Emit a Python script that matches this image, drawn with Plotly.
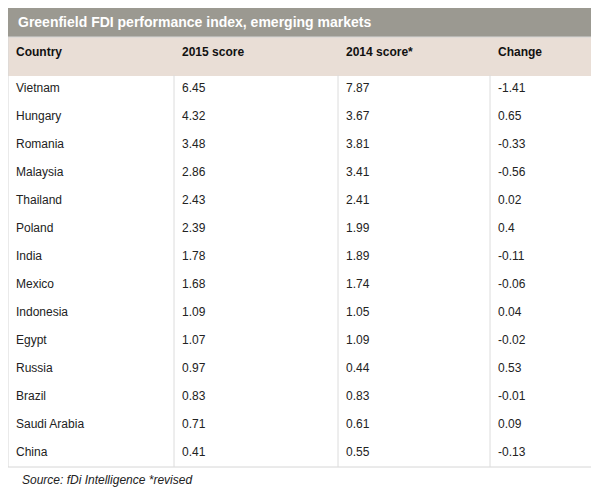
import plotly.graph_objects as go

countries = ["Vietnam","Hungary","Romania","Malaysia","Thailand","Poland","India","Mexico",
             "Indonesia","Egypt","Russia","Brazil","Saudi Arabia","China"]
score_2015 = ["6.45","4.32","3.48","2.86","2.43","2.39","1.78","1.68","1.09","1.07","0.97","0.83","0.71","0.41"]
score_2014 = ["7.87","3.67","3.81","3.41","2.41","1.99","1.89","1.74","1.05","1.09","0.44","0.83","0.61","0.55"]
change = ["-1.41","0.65","-0.33","-0.56","0.02","0.4","-0.11","-0.06","0.04","-0.02","0.53","-0.01","0.09","-0.13"]
headers = ["Country","2015 score","2014 score*","Change"]

W, H = 599, 487
top, bottom = 29, 459
colw = [166, 164, 152, 117]
font = "Liberation Sans, Arial, sans-serif"

fig = go.Figure(go.Table(
    columnwidth=colw,
    domain=dict(x=[0, 1], y=[(H-bottom)/H, (H-top)/H]),
    header=dict(values=[f"<b>{h}</b>" for h in headers], fill_color="#e9ded6",
                line_color="#e9ded6", align="left", height=38,
                font=dict(family=font, size=12, color="#111")),
    cells=dict(values=[countries, score_2015, score_2014, change], fill_color="white",
               line_color="white", align="left", height=28,
               font=dict(family=font, size=12, color="#222")),
))

shapes = [dict(type="rect", xref="paper", yref="paper", x0=0, x1=1, y0=(H-top)/H, y1=1,
               fillcolor="#9b9991", line_width=0, layer="below"),
          dict(type="rect", xref="paper", yref="paper", x0=0, x1=1, y0=(H-bottom)/H, y1=(H-top)/H,
               line=dict(color="#d6d6d6", width=1))]
x = 0
for w in colw[:-1]:
    x += w
    shapes.append(dict(type="line", xref="paper", yref="paper", x0=x/W, x1=x/W,
                       y0=(H-bottom)/H, y1=(H-top-38)/H, line=dict(color="#dcdcdc", width=1)))

fig.update_layout(
    width=W, height=H, margin=dict(l=0, r=0, t=0, b=0),
    paper_bgcolor="white", plot_bgcolor="white", shapes=shapes,
    annotations=[
        dict(text="<b>Greenfield FDI performance index, emerging markets</b>", xref="paper", yref="paper",
             x=8/W, y=(H-14)/H, xanchor="left", yanchor="middle", showarrow=False,
             font=dict(family=font, size=14, color="white")),
        dict(text="<i>Source: fDi Intelligence *revised</i>", xref="paper", yref="paper",
             x=12/W, y=(H-472)/H, xanchor="left", yanchor="middle", showarrow=False,
             font=dict(family=font, size=12, color="#222")),
    ],
)
fig.write_html("out.html")
